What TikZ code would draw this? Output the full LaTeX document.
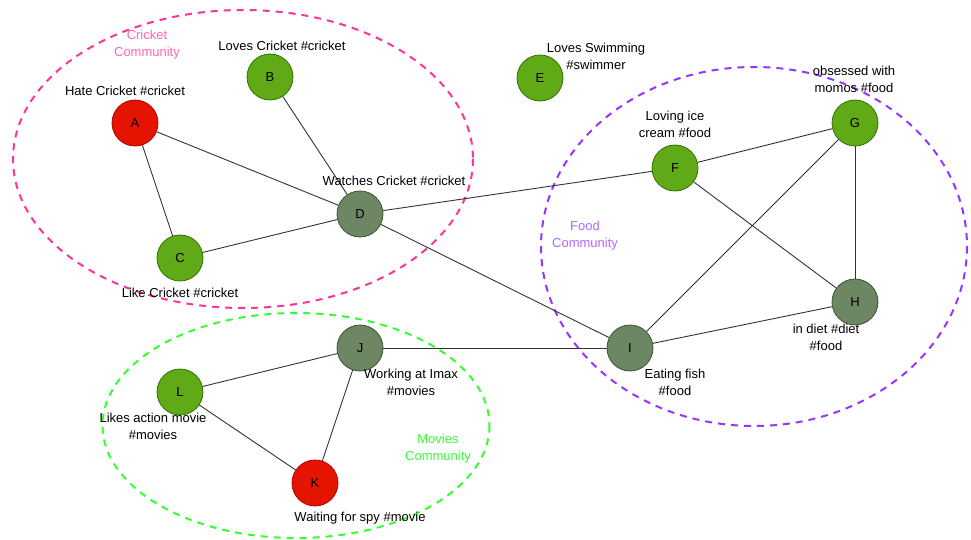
\documentclass[tikz,border=0pt]{standalone}
\usepackage{fontspec}
\setmainfont{Liberation Sans}
\definecolor{grfill}{HTML}{60A917}
\definecolor{grline}{HTML}{2D7600}
\definecolor{rdfill}{HTML}{E51400}
\definecolor{rdline}{HTML}{B20000}
\definecolor{gyfill}{HTML}{6D8764}
\definecolor{gyline}{HTML}{3A5431}
\definecolor{pinkc}{HTML}{FF3399}
\definecolor{pinkt}{HTML}{FF66B3}
\definecolor{purpc}{HTML}{9933FF}
\definecolor{purpt}{HTML}{B266FF}
\definecolor{limec}{HTML}{33FF33}
\definecolor{edgec}{HTML}{333333}
\begin{document}
\begin{tikzpicture}[x=1pt,y=-1pt,
  person/.style={circle,draw,line width=0.8pt,minimum size=46pt,inner sep=0pt,font=\fontsize{13}{15}\selectfont},
  likes/.style={person,fill=grfill,draw=grline},
  hates/.style={person,fill=rdfill,draw=rdline},
  neutral/.style={person,fill=gyfill,draw=gyline},
  caption/.style={align=center,font=\fontsize{13}{17}\selectfont,inner sep=0pt},
  community/.style={dashed,line width=2pt,dash pattern=on 7pt off 6pt},
  link/.style={draw=edgec,line width=0.9pt}]
\useasboundingbox (0,0) rectangle (971,540);

% community outlines
\draw[community,draw=pinkc] (243,159) ellipse [x radius=230,y radius=149];
\draw[community,draw=purpc] (754,246.5) ellipse [x radius=213,y radius=179.5];
\draw[community,draw=limec] (296,425.5) ellipse [x radius=193.5,y radius=112.5];

% people
\node[hates]   (A) at (135,123) {A};
\node[likes]   (B) at (270,77)  {B};
\node[likes]   (C) at (180,258) {C};
\node[neutral] (D) at (360,214) {D};
\node[likes]   (E) at (540,78)  {E};
\node[likes]   (F) at (675,168) {F};
\node[likes]   (G) at (855,123) {G};
\node[neutral] (H) at (855,302) {H};
\node[neutral] (I) at (630,348) {I};
\node[neutral] (J) at (360,348) {J};
\node[hates]   (K) at (315,483) {K};
\node[likes]   (L) at (180,392) {L};

% connections
\draw[link] (A) -- (D);
\draw[link] (A) -- (C);
\draw[link] (B) -- (D);
\draw[link] (C) -- (D);
\draw[link] (D) -- (F);
\draw[link] (F) -- (G);
\draw[link] (D) -- (I);
\draw[link] (F) -- (H);
\draw[link] (G) -- (H);
\draw[link] (G) -- (I);
\draw[link] (I) -- (H);
\draw[link] (J) -- (I);
\draw[link] (J) -- (L);
\draw[link] (J) -- (K);
\draw[link] (L) -- (K);

% community names
\node[caption,text=pinkt] (cc) at (147,45) {Cricket\\Community};
\node[caption,text=purpt] (fc) at (585,236) {Food\\Community};
\node[caption,text=limec] (mc) at (438,449) {Movies\\Community};

% interests
\node[caption] (tA) at (125,91)  {Hate Cricket \#cricket};
\node[caption] (tB) at (282,46)  {Loves Cricket \#cricket};
\node[caption] (tC) at (180,293) {Like Cricket \#cricket};
\node[caption] (tD) at (394,181) {Watches Cricket \#cricket};
\node[caption] (tE) at (596,56)  {Loves Swimming\\\#swimmer};
\node[caption] (tF) at (675,124) {Loving ice\\cream \#food};
\node[caption] (tG) at (854,79)  {obsessed with\\momos \#food};
\node[caption] (tH) at (826,337) {in diet \#diet\\\#food};
\node[caption] (tI) at (675,382) {Eating fish\\\#food};
\node[caption] (tJ) at (411,382) {Working at Imax\\\#movies};
\node[caption] (tK) at (360,518) {Waiting for spy \#movie};
\node[caption] (tL) at (153,426) {Likes action movie\\\#movies};
\end{tikzpicture}
\end{document}
